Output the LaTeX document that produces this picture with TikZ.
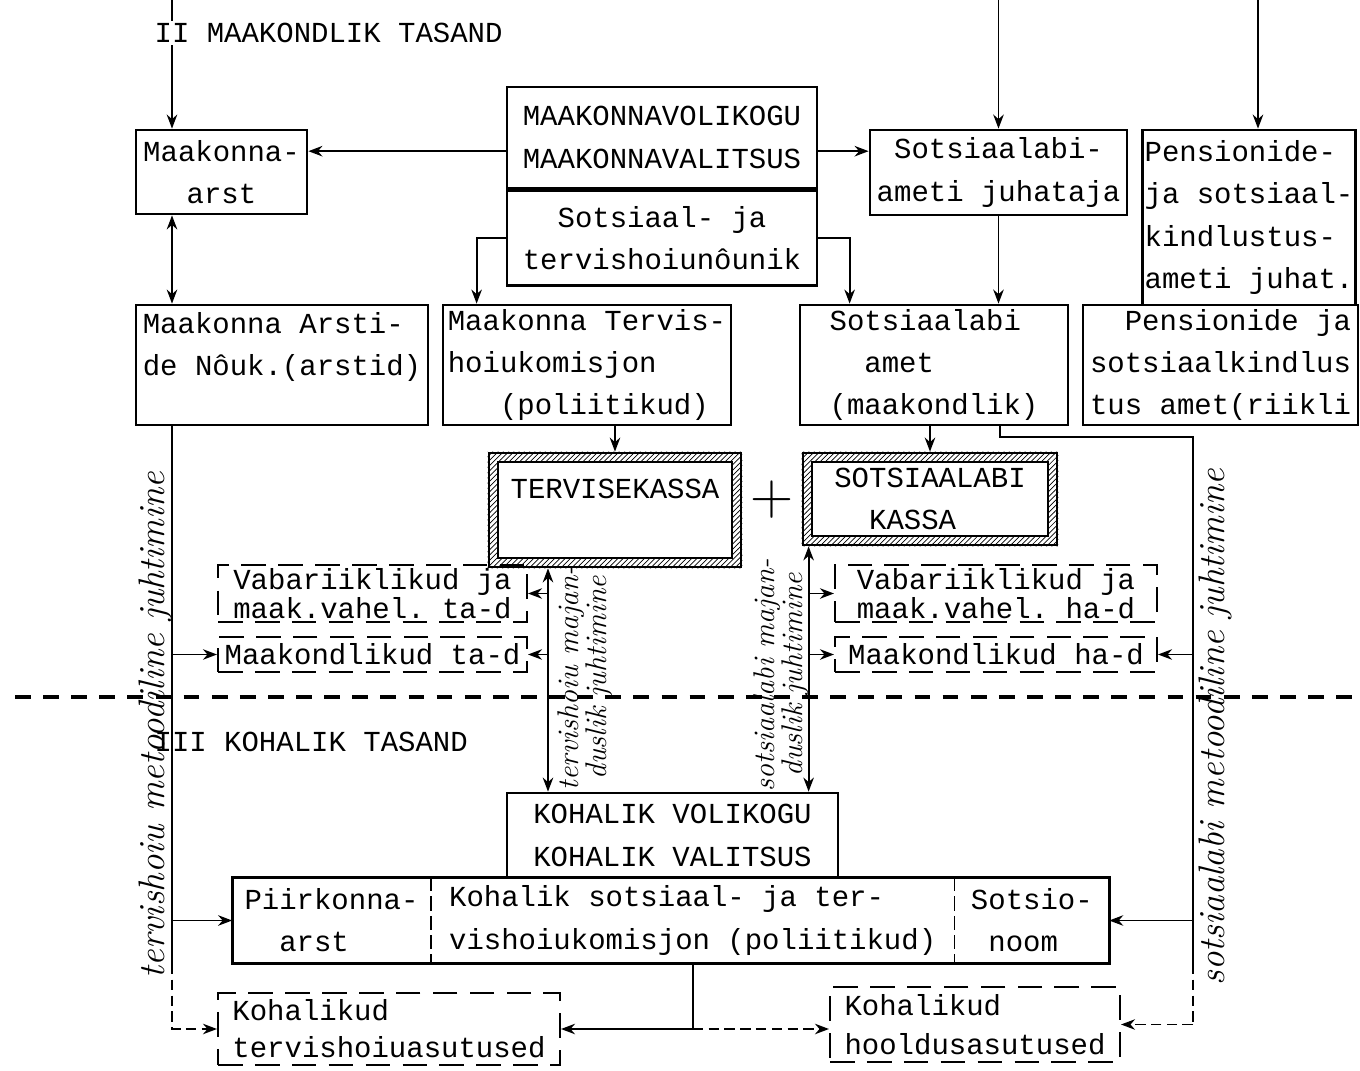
\documentclass[tikz,border=0pt]{standalone}
\usepackage{fontspec}
\setmonofont{Liberation Mono}
\usetikzlibrary{positioning,arrows.meta,patterns}

\newcommand{\kassarand}[1]{%
  \fill[pattern=north east lines, even odd rule] (#1.north west) rectangle (#1.south east)
    ([shift={(10,10)}]#1.north west) rectangle ([shift={(-10,-10)}]#1.south east);
  \draw[line width=1.2pt] ([shift={(10,10)}]#1.north west) rectangle ([shift={(-10,-10)}]#1.south east);}

\begin{document}
\begin{tikzpicture}[x=0.02cm, y=-0.02cm, line width=1pt,
    font=\ttfamily\fontsize{16.5}{24}\selectfont,
    >={Stealth[length=8pt,width=6pt]},
    box/.style={draw, line width=1.6pt, inner sep=2pt},
    dbox/.style={draw, line width=1.2pt, dash pattern=on 14pt off 7pt, inner sep=2pt, align=left, font=\ttfamily\fontsize{16.5}{16.5}\selectfont},
    kassa/.style={draw, line width=1.6pt, inner xsep=9pt, inner ysep=8pt, align=left},
    hand/.style={font=\rmfamily\itshape\fontsize{21}{21}\selectfont, rotate=90, inner sep=1pt},
    tasand/.style={anchor=west, inner sep=1pt}]
  \useasboundingbox (0,0) rectangle (1360,1071);
  \node[box, minimum width=3.42cm, minimum height=1.68cm, align=center] (arst) at (221.5,172) {Maakonna-\\arst};
  \node[box, minimum width=6.2cm, minimum height=2.02cm, align=center] (volikogu) at (662,137.5) {MAAKONNAVOLIKOGU\\MAAKONNAVALITSUS};
  \node[box, minimum width=6.2cm, minimum height=1.9cm, align=center, below=0pt of volikogu] (nounik) {Sotsiaal- ja\\tervishoiunôunik};
  \node[box, minimum width=5.14cm, minimum height=1.7cm, align=center] (juhataja) at (998.5,172.5) {Sotsiaalabi-\\ameti juhataja};
  \node[box, minimum width=4.24cm, minimum height=3.5cm, align=left, inner sep=1pt] (penjuht) at (1249,217.5) {Pensionide-\\ja sotsiaal-\\kindlustus-\\ameti juhat.};
  \node[box, minimum width=5.5cm, minimum height=2.4cm, align=right, inner sep=1pt] (penamet) at (1220.5,365) {Pensionide ja\\sotsiaalkindlus\\tus amet(riikli};
  \node[box, minimum width=5.84cm, minimum height=2.4cm, align=left] (noukogu) at (282,365) {Maakonna Arsti-\\de Nôuk.(arstid)\\~};
  \node[box, minimum width=5.76cm, minimum height=2.4cm, align=left] (komisjon) at (587,365) {Maakonna Tervis-\\hoiukomisjon\\~~~(poliitikud)};
  \node[box, minimum width=5.36cm, minimum height=2.4cm, align=left] (sotsamet) at (934,365) {Sotsiaalabi\\~~amet\\(maakondlik)};
  \node[kassa, minimum width=5.04cm, minimum height=2.28cm] (tkassa) at (615,510) {TERVISEKASSA\\~};
  \node[kassa, minimum width=5.08cm, minimum height=1.84cm] (skassa) at (930,499) {SOTSIAALABI\\~~KASSA};
  \kassarand{tkassa}
  \kassarand{skassa}
  \node (pluss) at (772,500) {\rmfamily\fontsize{34}{34}\selectfont +};
  \node[dbox, minimum width=6.18cm, minimum height=1.14cm] (vabt) at (372.5,593.5) {Vabariiklikud ja\\maak.vahel. ta-d};
  \node[dbox, minimum width=6.18cm, minimum height=0.7cm] (maakt) at (372.5,654.5) {Maakondlikud ta-d};
  \node[dbox, minimum width=6.44cm, minimum height=1.14cm] (vabh) at (996,593.5) {Vabariiklikud ja\\maak.vahel. ha-d};
  \node[dbox, minimum width=6.44cm, minimum height=0.7cm] (maakh) at (996,654.5) {Maakondlikud ha-d};
  \node[box, minimum width=6.62cm, minimum height=1.7cm, align=left] (kvolikogu) at (672.5,835.5) {KOHALIK VOLIKOGU\\KOHALIK VALITSUS};
  \node[minimum width=3.94cm, minimum height=1.7cm, align=left, inner sep=2pt] (piirkond) at (331.5,920.5) {Piirkonna-\\~~arst};
  \node[minimum width=10.44cm, minimum height=1.7cm, align=left, inner sep=2pt, right=0pt of piirkond] (komis2) {Kohalik sotsiaal- ja ter-\\vishoiukomisjon (poliitikud)};
  \node[minimum width=3.06cm, minimum height=1.7cm, align=left, inner sep=2pt, right=0pt of komis2] (sotsionoom) {Sotsio-\\~noom};
  \draw[box] (piirkond.north west) rectangle (sotsionoom.south east);
  \draw[dash pattern=on 8pt off 3pt] (piirkond.north east) -- (piirkond.south east);
  \draw[dash pattern=on 8pt off 3pt] (komis2.north east) -- (komis2.south east);
  \node[dbox, font=\ttfamily\fontsize{16.5}{21}\selectfont, minimum width=6.84cm, minimum height=1.44cm] (ktervis) at (389,1029) {Kohalikud\\tervishoiuasutused};
  \node[dbox, font=\ttfamily\fontsize{16.5}{22}\selectfont, minimum width=5.8cm, minimum height=1.5cm] (khooldus) at (975,1024.5) {Kohalikud\\hooldusasutused};
  \coordinate (top1) at (172,0);
  \coordinate (top2) at (998.5,0);
  \coordinate (top3) at (1258,0);
  \draw[->] (top1) -- (arst.north -| top1);
  \draw[->] (top2) -- (juhataja.north);
  \draw[->] (top3) -- (penjuht.north -| top3);
  \draw[->] (volikogu.185) -- (volikogu.185 -| arst.east);
  \draw[->] (volikogu.-5) -- (volikogu.-5 -| juhataja.west);
  \draw[->] (nounik.west) -| ([shift={(35,0)}]komisjon.north west);
  \draw[->] (nounik.east) -| ([shift={(51,0)}]sotsamet.north west);
  \draw[<->] (arst.south -| top1) -- (noukogu.north -| top1);
  \draw[->] (juhataja.south) -- (juhataja.south |- sotsamet.north);
  \draw[->] (tkassa.north |- komisjon.south) -- (tkassa.north);
  \draw[->] (skassa.north |- sotsamet.south) -- (skassa.north);
  \coordinate (tl) at ([shift={(-67,0)}]tkassa.south);
  \coordinate (sl) at ([shift={(7,0)}]skassa.south west);
  \draw[<->] (tl) -- (tl |- kvolikogu.north);
  \draw[->] (tl |- vabt.east) -- (vabt.east);
  \draw[->] (tl |- maakt.east) -- (maakt.east);
  \draw[<->] (sl) -- (sl |- kvolikogu.north);
  \draw[->] (sl |- vabh.west) -- (vabh.west);
  \draw[->] (sl |- maakh.west) -- (maakh.west);
  \draw (noukogu.south -| top1) -- (top1 |- piirkond.south);
  \draw[->] (top1 |- maakt.west) -- (maakt.west);
  \draw[->] (top1 |- piirkond.west) -- (piirkond.west);
  \draw[->, dash pattern=on 6pt off 3pt] (top1 |- piirkond.south) |- (ktervis.west);
  \coordinate (sr) at ([shift={(66,0)}]sotsamet.south);
  \coordinate (rt) at (1193,437);
  \draw (sr) |- (rt) -- (rt |- sotsionoom.south);
  \draw[line width=0.6pt, dash pattern=on 6pt off 3pt] (rt |- sotsionoom.south) -- (rt |- khooldus.east);
  \draw[->] (rt |- maakh.east) -- (maakh.east);
  \draw[->, line width=0.6pt] (rt |- sotsionoom.east) -- (sotsionoom.east);
  \draw[->, line width=0.6pt, dash pattern=on 6pt off 3pt] (rt |- khooldus.east) -- (khooldus.east);
  \draw (komis2.south) -- (komis2.south |- ktervis.east);
  \draw[->] (komis2.south |- ktervis.east) -- (ktervis.east);
  \draw[->, dash pattern=on 6pt off 3pt] (komis2.south |- ktervis.east) -- (khooldus.west |- ktervis.east);
  \coordinate (sepl) at (15,697);
  \coordinate (sepr) at (1360,697);
  \draw[line width=2pt, dash pattern=on 9pt off 7pt] (sepl) -- (sepr);
  \node[tasand, fill=white] (tasand2) at (152,33) {II MAAKONDLIK TASAND};
  \node[tasand] (tasand3) at (152,742) {III KOHALIK TASAND};
  \node[hand] (metl) at (155,725) {tervishoiu metoodiline juhtimine};
  \node[hand] (metr) at (1215,727) {sotsiaalabi metoodiline juhtimine};
  \node[hand, align=center, font=\rmfamily\itshape\fontsize{17}{16}\selectfont] (majt) at (585,678) {tervishoiu majan-\\duslik juhtimine};
  \node[hand, align=center, font=\rmfamily\itshape\fontsize{17}{16}\selectfont] (majs) at (781,675) {sotsiaalabi majan-\\duslik juhtimine};
\end{tikzpicture}
\end{document}
